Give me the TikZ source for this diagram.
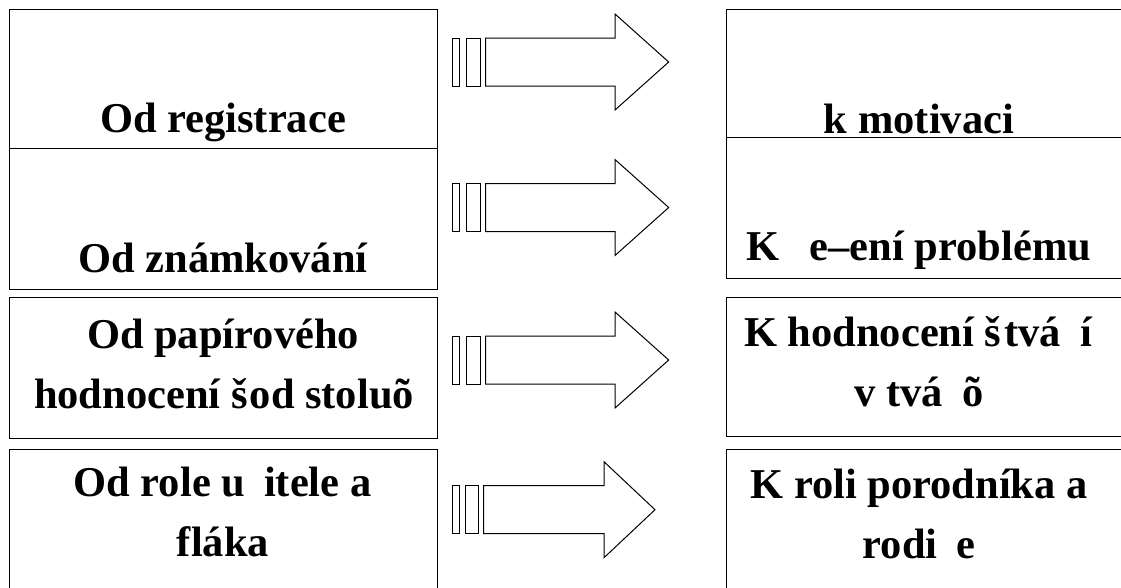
\documentclass[tikz,border=0pt]{standalone}
\usepackage{fontspec}
\setmainfont{Liberation Serif}
\begin{document}
\begin{tikzpicture}[x=1pt,y=-1pt,
  ln/.style={draw=black,line width=1pt},
  box/.style={ln,rectangle,inner sep=0pt,outer sep=0pt,anchor=north west},
  lbl/.style={anchor=base,inner sep=0pt,font=\fontsize{42.5}{60}\selectfont\bfseries}]
\useasboundingbox (0,0) rectangle (1121,587);
\clip (0,0) rectangle (1121,587);
% left boxes
\node[box,minimum width=428.7pt,minimum height=139pt] (L1) at (9,9) {};
\node[box,minimum width=428.7pt,minimum height=141.3pt] (L2) at (9,148) {};
\node[box,minimum width=428.7pt,minimum height=141pt] (L3) at (9,297) {};
\node[box,minimum width=428.7pt,minimum height=170pt] (L4) at (9,449.3) {};
% right boxes
\node[box,minimum width=420pt,minimum height=128pt] (R1) at (726,9) {};
\node[box,minimum width=420pt,minimum height=141.3pt] (R2) at (726,137) {};
\node[box,minimum width=420pt,minimum height=139.7pt] (R3) at (726,297) {};
\node[box,minimum width=420pt,minimum height=170pt] (R4) at (726,449) {};
% left texts
\node[lbl] (tL1) at (223,132) {Od registrace};
\node[lbl] (tL2) at (223,272) {Od známkování};
\node[lbl] (tL3a) at (223,348.3) {Od papírového};
\node[lbl] (tL3b) at (224,408.3) {hodnocení š\hspace{2pt}od stoluõ};
\node[lbl] (tL4a) at (222.5,496.7) {Od role u\hspace{19pt}itele a};
\node[lbl] (tL4b) at (223,556.7) {fláka};
% right texts
\node[lbl] (tR1) at (919,133.5) {k motivaci};
\node[lbl] (tR2) at (919,260) {K \hspace{19pt}e–ení problému};
\node[lbl] (tR3a) at (918,346.7) {K hodnocení š\hspace{3pt}tvá\hspace{19pt}í};
\node[lbl] (tR3b) at (919,406.7) {v tvá\hspace{19pt}õ};
\node[lbl] (tR4a) at (919,498.3) {K roli porodníka a};
\node[lbl] (tR4b) at (919,558.3) {rodi\hspace{19pt}e};
% block arrows
\foreach \c/\xa/\xb/\xc/\xd/\xe/\xs/\xt in {
  62/452.3/459.3/466/480.3/485.7/615/668.7,
  207.5/452.3/459.3/466/480.3/485.7/615/668.7,
  360/452.3/459.3/466/480.3/485.7/615/668.7,
  509.7/452.7/459/465/478/483.7/604/655}{
  \draw[ln] (\xa,\c-24) rectangle (\xb,\c+24);
  \draw[ln] (\xc,\c-24) rectangle (\xd,\c+24);
  \draw[ln] (\xe,\c-24) -- (\xs,\c-24) -- (\xs,\c-48) -- (\xt,\c)
    -- (\xs,\c+48) -- (\xs,\c+24) -- (\xe,\c+24) -- cycle;
}
\end{tikzpicture}
\end{document}
